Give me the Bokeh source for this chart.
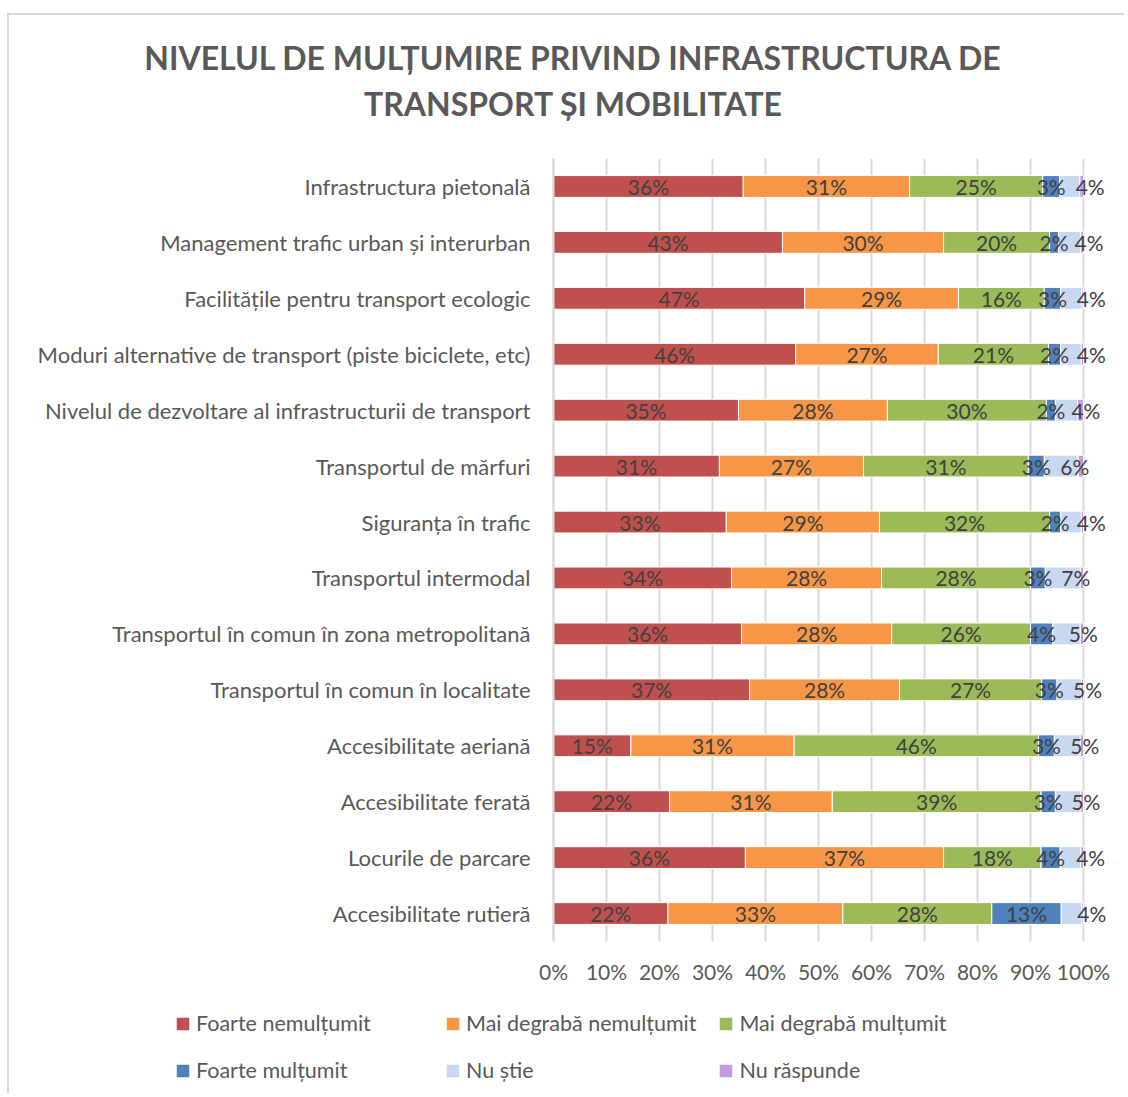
from bokeh.plotting import figure
from bokeh.models import Range1d, FixedTicker, ColumnDataSource, Label, Legend, LegendItem
from bokeh.core.properties import value
from bokeh.embed import file_html
from bokeh.resources import INLINE

title_lines = ["NIVELUL DE MULȚUMIRE PRIVIND INFRASTRUCTURA DE",
               "TRANSPORT ȘI MOBILITATE"]

categories = [
    "Infrastructura pietonală",
    "Management trafic urban și interurban",
    "Facilitățile pentru transport ecologic",
    "Moduri alternative de transport (piste biciclete, etc)",
    "Nivelul de dezvoltare al infrastructurii de transport",
    "Transportul de mărfuri",
    "Siguranța în trafic",
    "Transportul intermodal",
    "Transportul în comun în zona metropolitană",
    "Transportul în comun în localitate",
    "Accesibilitate aeriană",
    "Accesibilitate ferată",
    "Locurile de parcare",
    "Accesibilitate rutieră",
]

series_names = ["Foarte nemulțumit", "Mai degrabă nemulțumit", "Mai degrabă mulțumit",
                "Foarte mulțumit", "Nu știe", "Nu răspunde"]

foarte_nemultumit = [35.8, 43.2, 47.4, 45.7, 34.9, 31.3, 32.6, 33.6, 35.5, 37.0, 14.6, 21.9, 36.2, 21.6]
mai_degraba_nemultumit = [31.4, 30.4, 29.0, 26.9, 28.1, 27.2, 28.9, 28.3, 28.3, 28.3, 30.8, 30.7, 37.4, 33.0]
mai_degraba_multumit = [25.1, 20.0, 16.2, 20.8, 30.0, 31.1, 32.1, 28.1, 26.2, 26.8, 46.1, 39.4, 18.4, 28.1]
foarte_multumit = [3.2, 1.7, 3.1, 2.3, 1.7, 3.0, 2.1, 2.8, 4.2, 2.9, 3.0, 2.7, 3.6, 13.1]
nu_stie = [3.8, 4.2, 4.0, 3.9, 4.2, 6.4, 3.9, 6.6, 5.2, 4.6, 4.9, 4.8, 3.9, 3.9]
nu_raspunde = [0.7, 0.5, 0.3, 0.4, 1.1, 1.0, 0.4, 0.6, 0.6, 0.4, 0.6, 0.5, 0.5, 0.3]

x_ticks = [0, 10, 20, 30, 40, 50, 60, 70, 80, 90, 100]

colors = ["#C0504D", "#F79646", "#9BBB59", "#4F81BD", "#C6D9F1", "#C39BE0"]

series = [foarte_nemultumit, mai_degraba_nemultumit, mai_degraba_multumit,
          foarte_multumit, nu_stie, nu_raspunde]

FONT = "Lato"
W, H = 1117, 1080
OX, OY = 9, 15                  # page position of the canvas origin
X0, X100 = 553, 1083            # page x of 0% and 100%
CH_T, CH_B = 158, 941           # page y of the chart area edges
n = len(categories)
ys = [n - 1 - i for i in range(n)]

px_per_x = (X100 - X0) / 100.0
px_per_y = (CH_B - CH_T) / float(n)


def dx(px):   # page x -> data x
    return (px - X0) / px_per_x


def dy(py):   # page y -> data y
    return (n - 0.5) - (py - CH_T) / px_per_y


p = figure(width=W, height=H,
           x_range=Range1d(dx(OX), dx(OX + W)), y_range=Range1d(dy(OY + H), dy(OY)),
           output_backend="svg", toolbar_location=None,
           min_border_left=0, min_border_right=0, min_border_top=0, min_border_bottom=0)
p.margin = (13, 0, 0, 7)
p.styles = {"border-left": "2px solid #d9d9d9", "border-top": "2px solid #d9d9d9"}
p.outline_line_color = None
p.background_fill_color = "white"
p.border_fill_color = "white"
p.xgrid.visible = False
p.ygrid.visible = False

# vertical grid lines at the x ticks, spanning the chart area only
p.segment(x0=x_ticks, x1=x_ticks, y0=[-0.5] * len(x_ticks), y1=[n - 0.5] * len(x_ticks),
          line_color="#d9d9d9", line_width=2)

# x axis (percent labels)
xa = p.xaxis[0]
xa.fixed_location = -0.5
xa.bounds = (0, 100)
xa.ticker = FixedTicker(ticks=x_ticks)
xa.major_label_overrides = {tk: f"{tk}%" for tk in x_ticks}
xa.axis_line_color = None
xa.major_tick_line_color = None
xa.minor_tick_line_color = None
xa.major_tick_out = 0
xa.major_label_standoff = 17
xa.major_label_text_font = FONT
xa.major_label_text_font_size = "21px"
xa.major_label_text_color = "#595959"

# y axis (categories)
ya = p.yaxis[0]
ya.fixed_location = 0
ya.bounds = (-0.5, n - 0.5)
ya.ticker = FixedTicker(ticks=ys)
ya.major_label_overrides = {y: c for y, c in zip(ys, categories)}
ya.axis_line_color = "#d9d9d9"
ya.axis_line_width = 2
ya.major_tick_line_color = None
ya.minor_tick_line_color = None
ya.major_tick_out = 0
ya.major_label_standoff = 23
ya.major_label_text_font = FONT
ya.major_label_text_font_size = "22px"
ya.major_label_text_color = "#595959"

left = [0.0] * n
renderers = []
label_x, label_y, label_t, label_align, label_off = [], [], [], [], []
for si, (name, vals, col) in enumerate(zip(series_names, series, colors)):
    right = [l + v for l, v in zip(left, vals)]
    src = ColumnDataSource(dict(y=ys, left=left, right=right))
    r = p.hbar(y="y", left="left", right="right", height=0.39, source=src,
               fill_color=col, line_color="white", line_width=1)
    renderers.append((name, r))
    for i in range(n):
        if si <= 3:
            label_x.append((left[i] + right[i]) / 2)
            label_y.append(ys[i])
            label_t.append(f"{round(vals[i])}%")
            label_align.append("center")
            label_off.append(0)
        elif si == 4:
            label_x.append(left[i])
            label_y.append(ys[i])
            label_t.append(f"{round(vals[i])}%")
            label_align.append("left")
            label_off.append(16)
    left = right

lsrc = ColumnDataSource(dict(x=label_x, y=label_y, t=label_t, a=label_align, o=label_off))
p.text(x="x", y="y", text="t", source=lsrc, text_align="a", x_offset="o",
       text_baseline="middle", text_font=value(FONT), text_font_size="21px",
       text_color="#404040")

# title
for line, cy in zip(title_lines, [57, 103]):
    p.add_layout(Label(x=dx(573), y=dy(cy), text=line,
                       text_align="center", text_baseline="middle", text_font=FONT,
                       text_font_size="32px", text_font_style="bold", text_color="#595959"))

# legend (location in frame pixels from the bottom-left corner)
legend = Legend(items=[LegendItem(label=nm, renderers=[r]) for nm, r in renderers],
                location=(174 - OX, (OY + H) - 1083), orientation="horizontal", ncols=3,
                glyph_width=17, glyph_height=17, label_standoff=5,
                label_width=227, label_height=24, spacing=21,
                padding=0, margin=0,
                border_line_color=None, background_fill_alpha=0,
                label_text_font=FONT, label_text_font_size="21.5px",
                label_text_color="#595959")
p.add_layout(legend, "center")

open("out.html", "w").write(file_html(p, INLINE))
